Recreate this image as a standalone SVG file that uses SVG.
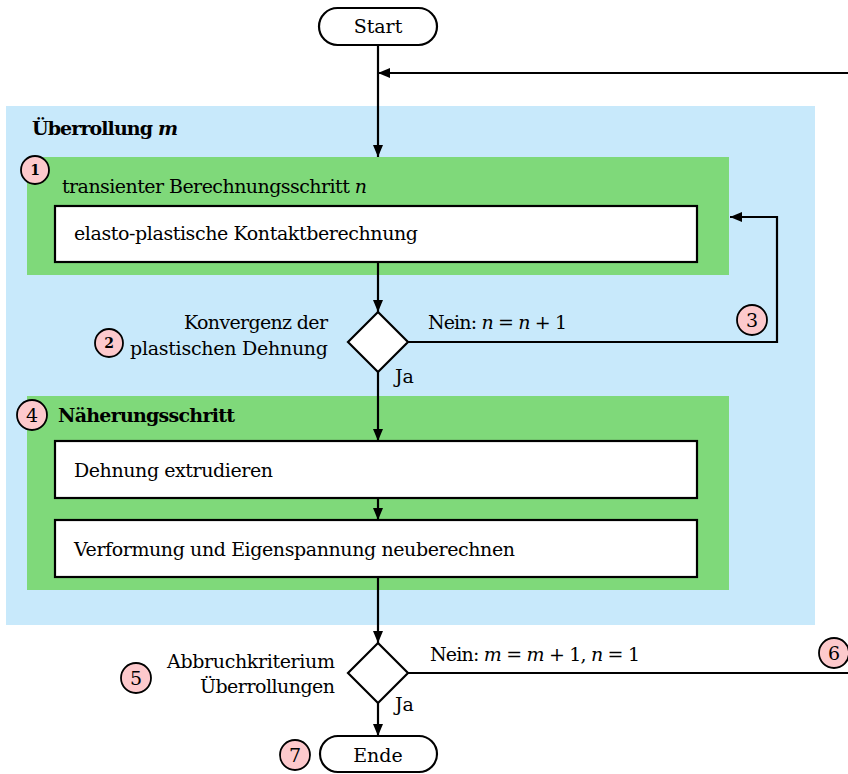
<svg xmlns="http://www.w3.org/2000/svg" width="848" height="774" viewBox="0 0 848 774">
<style>
text{font-family:"DejaVu Serif","Liberation Serif",serif;font-size:19px;fill:#000}
.b{font-weight:bold}
.i{font-style:italic}
.r{text-anchor:end}
.c{text-anchor:middle}
.box{fill:#fff;stroke:#000;stroke-width:2.2}
.blue{fill:#c8e9fb}
.green{fill:#7fd97a}
.num{fill:#fdc9cc;stroke:#000;stroke-width:1.8}
.numt{font-size:19px;text-anchor:middle}
.nums{font-size:14px;font-weight:bold;text-anchor:middle}
.ln{fill:none;stroke:#000;stroke-width:2.2}
</style>
<defs>
<marker id="ah" viewBox="0 0 12 10" refX="12" refY="5" markerWidth="12" markerHeight="10" markerUnits="userSpaceOnUse" orient="auto">
<path d="M0,0 L12,5 L0,10 Z" fill="#000"/>
</marker>
</defs>

<g id="ueberrollung">
<rect class="blue" x="6" y="106" width="809" height="519"/>
<text class="b" x="32" y="135" textLength="146">Überrollung <tspan class="i">m</tspan></text>
</g>

<g id="schritt1">
<rect class="green" x="27" y="157" width="702" height="118"/>
<text x="62" y="193" textLength="305">transienter Berechnungsschritt <tspan class="i">n</tspan></text>
</g>

<g id="kontakt">
<rect class="box" x="55" y="206" width="642" height="56"/>
<text x="74" y="240" textLength="344">elasto-plastische Kontaktberechnung</text>
</g>

<g id="naeherung">
<rect class="green" x="27" y="396" width="702" height="194"/>
<text class="b" x="58" y="422" textLength="177">Näherungsschritt</text>
</g>

<g id="dehnung">
<rect class="box" x="55" y="441" width="642" height="57"/>
<text x="74" y="477" textLength="199">Dehnung extrudieren</text>
</g>

<g id="verformung">
<rect class="box" x="55" y="520" width="642" height="57"/>
<text x="74" y="556" textLength="441">Verformung und Eigenspannung neuberechnen</text>
</g>

<g id="start">
<rect class="box" x="319" y="8" width="118" height="37" rx="18.5"/>
<text class="c" x="378" y="33">Start</text>
</g>

<g id="konvergenz">
<path class="box" d="M378,312 L408,342 L378,372 L348,342 Z"/>
<text class="r" x="328" y="329" textLength="144">Konvergenz der</text>
<text class="r" x="328" y="355" textLength="198">plastischen Dehnung</text>
</g>

<g id="abbruch">
<path class="box" d="M378,643 L408,673 L378,703 L348,673 Z"/>
<text class="r" x="335" y="668" textLength="168">Abbruchkriterium</text>
<text class="r" x="335" y="693" textLength="135">Überrollungen</text>
</g>

<g id="ende">
<rect class="box" x="320" y="736" width="117" height="36" rx="18"/>
<text class="c" x="378" y="762">Ende</text>
</g>

<g id="connectors">
<path class="ln" d="M378,45 L378,157" marker-end="url(#ah)"/>
<path class="ln" d="M848,73 L378,73" marker-end="url(#ah)"/>
<path class="ln" d="M378,262 L378,312" marker-end="url(#ah)"/>
<path class="ln" d="M408,342 L777,342 L777,217 L730,217" marker-end="url(#ah)"/>
<path class="ln" d="M378,372 L378,441" marker-end="url(#ah)"/>
<path class="ln" d="M378,498 L378,520" marker-end="url(#ah)"/>
<path class="ln" d="M378,577 L378,643" marker-end="url(#ah)"/>
<path class="ln" d="M408,673 L848,673"/>
<path class="ln" d="M378,703 L378,736" marker-end="url(#ah)"/>
<text x="428" y="329" textLength="139">Nein: <tspan class="i">n</tspan> = <tspan class="i">n</tspan> + 1</text>
<text x="395" y="383">Ja</text>
<text x="430" y="661" textLength="210">Nein: <tspan class="i">m</tspan> = <tspan class="i">m</tspan> + 1, <tspan class="i">n</tspan> = 1</text>
<text x="395" y="711">Ja</text>
</g>

<g id="markers">
<circle class="num" cx="35" cy="170" r="14"/><text class="nums" x="35" y="175">1</text>
<circle class="num" cx="109" cy="343" r="14"/><text class="nums" x="109" y="348">2</text>
<circle class="num" cx="752" cy="320" r="15"/><text class="numt" x="752" y="327">3</text>
<circle class="num" cx="32" cy="415" r="15"/><text class="numt" x="32" y="422">4</text>
<circle class="num" cx="136" cy="678" r="15"/><text class="numt" x="136" y="685">5</text>
<circle class="num" cx="834" cy="653" r="15"/><text class="numt" x="834" y="660">6</text>
<circle class="num" cx="295" cy="755" r="15"/><text class="numt" x="295" y="762">7</text>
</g>
</svg>
